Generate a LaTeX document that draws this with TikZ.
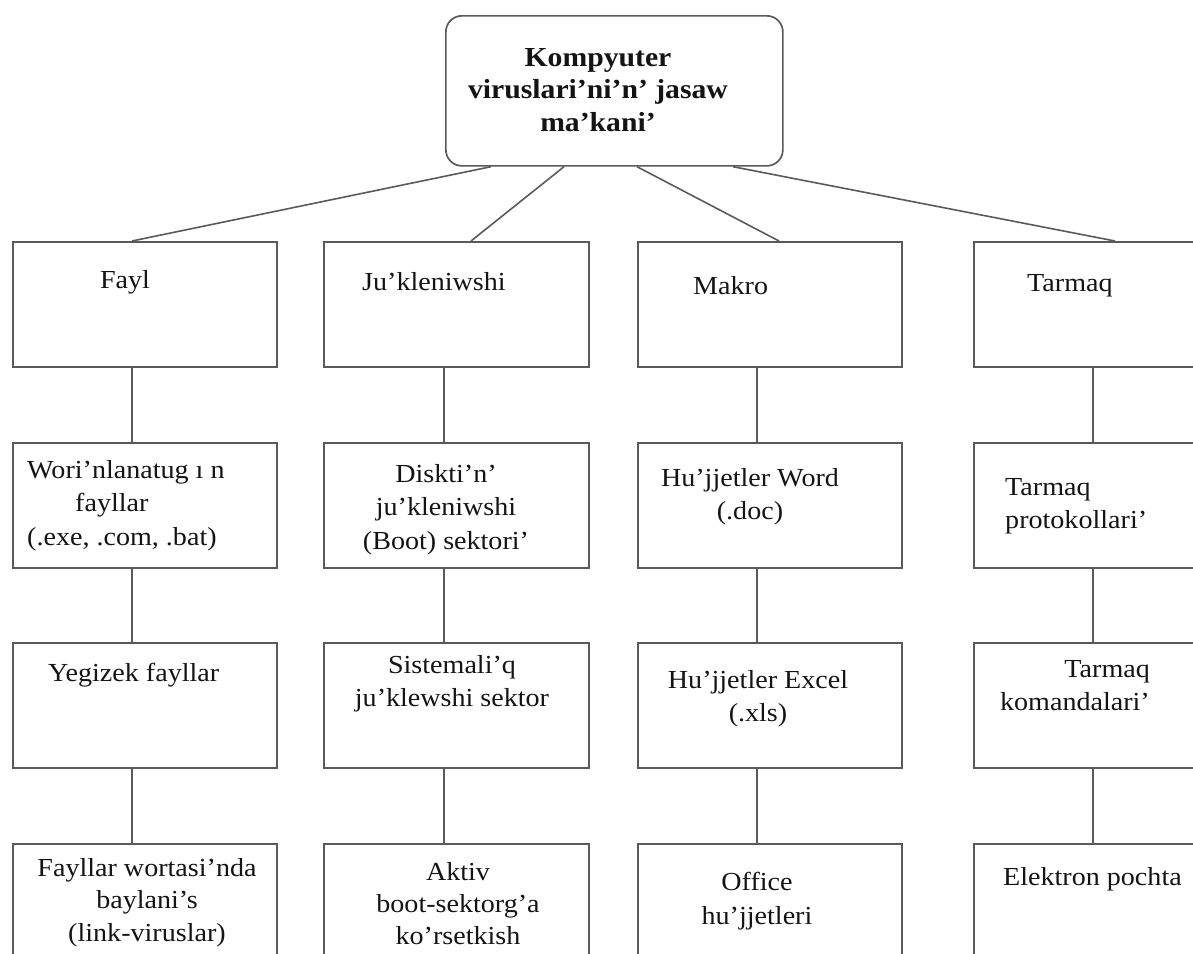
\documentclass[tikz,border=0pt]{standalone}
\usepackage{fontspec}
\setmainfont{Liberation Serif}[FakeStretch=1.08]
\usetikzlibrary{calc}
\definecolor{linegray}{HTML}{5A5A5A}
\definecolor{ink}{HTML}{141414}
\begin{document}
\begin{tikzpicture}[x=1pt,y=-1pt,
  box/.style={draw=linegray, line width=1.7pt, rectangle, inner sep=0pt,
    minimum width=264pt, minimum height=125pt, anchor=north west},
  rootbox/.style={draw=linegray, line width=1.7pt, rectangle, rounded corners=16pt,
    inner sep=0pt, minimum width=337pt, minimum height=150pt, anchor=north west},
  link/.style={draw=linegray, line width=1.6pt},
  lbl/.style={inner sep=0pt, text=ink, font=\fontsize{26}{33.5}\selectfont},
  rootlbl/.style={inner sep=0pt, text=ink, font=\bfseries\fontsize{27.5}{32.5}\selectfont},
]
\useasboundingbox (0,0) rectangle (1193,953);
\clip (0,0) rectangle (1193,953);

% root
\node[rootbox] (root) at (445,15) {};
\node[rootlbl, align=center, anchor=north] (troot) at (598,48)
  {Kompyuter\\viruslari'ni'n' jasaw\\ma'kani'};

% boxes: four columns, four rows
\node[box] (r1c1) at (12,241) {};
\node[box, minimum width=265pt] (r1c2) at (323,241) {};
\node[box] (r1c3) at (637,241) {};
\node[box] (r1c4) at (973,241) {};

\node[box] (r2c1) at (12,442) {};
\node[box, minimum width=265pt] (r2c2) at (323,442) {};
\node[box] (r2c3) at (637,442) {};
\node[box] (r2c4) at (973,442) {};

\node[box] (r3c1) at (12,642) {};
\node[box, minimum width=265pt] (r3c2) at (323,642) {};
\node[box] (r3c3) at (637,642) {};
\node[box] (r3c4) at (973,642) {};

\node[box] (r4c1) at (12,843) {};
\node[box, minimum width=265pt] (r4c2) at (323,843) {};
\node[box] (r4c3) at (637,843) {};
\node[box] (r4c4) at (973,843) {};

% labels
\node[lbl, anchor=north] (t11) at (125,270) {Fayl};
\node[lbl, anchor=north west] (t12) at (362,272) {Ju'kleniwshi};
\node[lbl, anchor=north west] (t13) at (693,276) {Makro};
\node[lbl, anchor=north west] (t14) at (1027,274) {Tarmaq};

\node[lbl, align=left, anchor=north west] (t21) at (27,460)
  {Wori'nlanatug ı n\\\hspace*{48pt}fayllar\\(.exe, .com, .bat)};
\node[lbl, align=center, anchor=north] (t22) at (446,464)
  {Diskti'n'\\ju'kleniwshi\\(Boot) sektori'};
\node[lbl, align=center, anchor=north] (t23) at (750,468)
  {Hu'jjetler Word\\(.doc)};
\node[lbl, align=left, anchor=north west] (t24) at (1005,478)
  {Tarmaq\\protokollari'};

\node[lbl, anchor=north west] (t31) at (48,663) {Yegizek fayllar};
\node[lbl, align=center, anchor=north] (t32) at (452,655)
  {Sistemali'q\\ju'klewshi sektor};
\node[lbl, align=center, anchor=north] (t33) at (758,670)
  {Hu'jjetler Excel\\(.xls)};
\node[lbl, align=right, anchor=north east] (t34) at (1150,660)
  {Tarmaq\\komandalari'};

\node[lbl, align=center, anchor=north, font=\fontsize{26}{32.5}\selectfont] (t41) at (147,858)
  {Fayllar wortasi'nda\\baylani's\\(link-viruslar)};
\node[lbl, align=center, anchor=north, font=\fontsize{26}{32}\selectfont] (t42) at (458,862)
  {Aktiv\\boot-sektorg'a\\ko'rsetkish};
\node[lbl, align=center, anchor=north] (t43) at (757,872)
  {Office\\hu'jjetleri};
\node[lbl, anchor=north west] (t44) at (1003,867) {Elektron pochta};

% root to first row
\draw[link] ($(root.south west)+(46,0)$)  -- ($(r1c1.north west)+(120,0)$);
\draw[link] ($(root.south west)+(119,0)$) -- ($(r1c2.north west)+(148,0)$);
\draw[link] ($(root.south west)+(192,0)$) -- ($(r1c3.north west)+(142,0)$);
\draw[link] ($(root.south west)+(288,0)$) -- ($(r1c4.north west)+(142,0)$);

% vertical stems of each column
\coordinate (v1) at (132,0);
\coordinate (v2) at (444,0);
\coordinate (v3) at (757,0);
\coordinate (v4) at (1093,0);
\foreach \c in {1,2,3,4}{
  \foreach \r/\n in {1/2,2/3,3/4}{
    \draw[link] (r\r c\c.south -| v\c) -- (r\n c\c.north -| v\c);
  }
}
\end{tikzpicture}
\end{document}
